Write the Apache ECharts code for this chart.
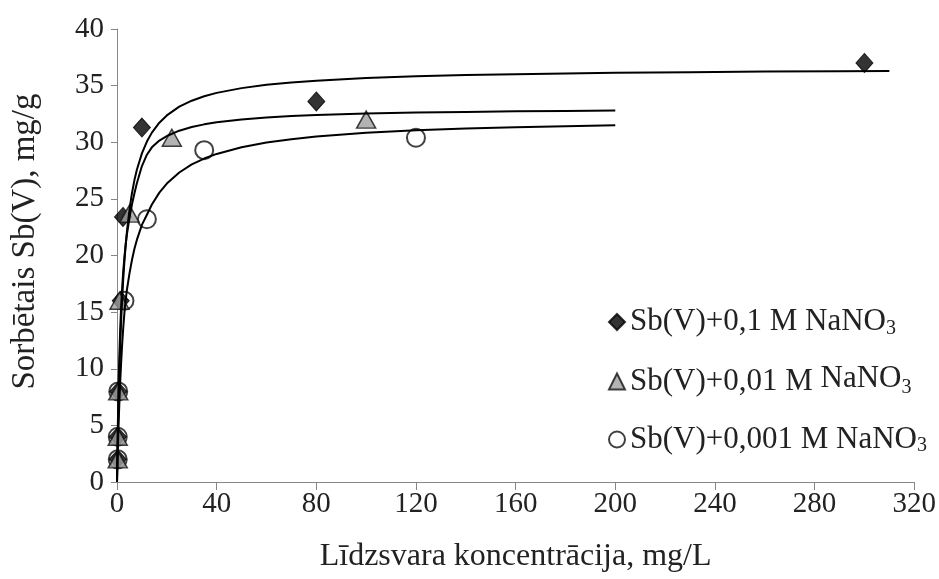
<!DOCTYPE html>
<html><head><meta charset="utf-8">
<script src="https://cdn.jsdelivr.net/npm/echarts@6/dist/echarts.min.js"></script>
<style>html,body{margin:0;padding:0;background:#fff}#c{width:939px;height:579px}</style>
</head><body><div id="c"></div>
<script>
// Series names
const names = ['Sb(V)+0,1 M NaNO3', 'Sb(V)+0,01 M NaNO3', 'Sb(V)+0,001 M NaNO3'];

// Measured points [C (mg/L), q (mg/g)]
const pts01 = [[0.3, 2], [0.3, 4], [0.5, 8], [1.5, 16], [2.4, 23.4], [10, 31.3], [80, 33.6], [300, 37.0]];
const pts001 = [[0.3, 2], [0.3, 4], [0.5, 8], [1, 16], [5, 23.7], [22, 30.4], [100, 32.0]];
const pts0001 = [[0.3, 2], [0.3, 4], [0.5, 8], [3, 16], [12, 23.2], [35, 29.3], [120, 30.4]];

// Fitted curves [C, q]
const fit01 = [[0, 0], [0.1, 1.35], [0.2, 2.6], [0.4, 4.86], [0.6, 6.84], [0.8, 8.58], [1, 10.14], [1.3, 12.17], [1.6, 13.91], [2, 15.87], [2.5, 17.9], [3, 19.57], [3.5, 20.96], [4, 22.15], [5, 24.04], [6, 25.5], [7, 26.66], [8, 27.59], [10, 29.02], [12, 30.06], [14, 30.85], [17, 31.73], [20, 32.37], [25, 33.14], [30, 33.67], [35, 34.06], [40, 34.36], [50, 34.78], [60, 35.07], [70, 35.28], [80, 35.44], [100, 35.67], [120, 35.82], [140, 35.93], [160, 36.01], [180, 36.08], [200, 36.13], [230, 36.19], [260, 36.24], [290, 36.27], [310, 36.29]];
const fit001 = [[0, 0], [0.1, 1.6], [0.2, 3.1], [0.4, 5.8], [0.6, 8.1], [0.8, 10.0], [1, 11.6], [1.3, 13.6], [1.6, 15.2], [2, 16.9], [2.5, 18.6], [3, 19.9], [3.5, 21.0], [4, 21.9], [5, 23.3], [6, 24.5], [7, 25.5], [8, 26.4], [10, 27.9], [12, 28.9], [14, 29.55], [17, 30.15], [20, 30.55], [25, 31.02], [30, 31.34], [35, 31.58], [40, 31.76], [50, 32.01], [60, 32.18], [70, 32.31], [80, 32.4], [100, 32.53], [120, 32.62], [140, 32.68], [160, 32.73], [180, 32.77], [200, 32.8]];
const fit0001 = [[0, 0], [0.1, 0.9], [0.2, 1.8], [0.4, 3.3], [0.6, 4.8], [0.8, 6.1], [1, 7.3], [1.3, 8.9], [1.6, 10.3], [2, 11.9], [2.5, 13.6], [3, 15.0], [3.5, 16.1], [4, 17.0], [5, 18.4], [6, 19.6], [7, 20.6], [8, 21.4], [10, 22.7], [12, 23.6], [14, 24.5], [17, 25.55], [20, 26.35], [25, 27.33], [30, 28.04], [35, 28.56], [40, 28.97], [50, 29.56], [60, 29.97], [70, 30.27], [80, 30.5], [100, 30.83], [120, 31.05], [140, 31.21], [160, 31.33], [180, 31.42], [200, 31.5]];

const xMin = 0, xMax = 320, xStep = 40;
const yMin = 0, yMax = 40, yStep = 5;

const FONT = 'Liberation Serif';
const axisGray = '#868686';
const txt = '#222';

const legendText = {};
legendText[names[0]] = 'Sb(V)+0,1 M NaNO{sub|3}';
legendText[names[1]] = 'Sb(V)+0,01 M {up|NaNO}{sub|3}';
legendText[names[2]] = 'Sb(V)+0,001 M NaNO{sub|3}';

const chart = echarts.init(document.getElementById('c'), null, {renderer: 'canvas'});

function lineSeries(data) {
  return {
    type: 'line', data: data, smooth: false, symbol: 'none',
    lineStyle: {color: '#000', width: 2}, z: 5, silent: true, animation: false
  };
}

chart.setOption({
  animation: false,
  backgroundColor: '#fff',
  grid: {left: 117, right: 24, top: 29, bottom: 97, containLabel: false},
  xAxis: {
    type: 'value', min: xMin, max: xMax, interval: xStep,
    name: 'Līdzsvara koncentrācija, mg/L', nameLocation: 'middle', nameGap: 59,
    nameTextStyle: {fontFamily: FONT, fontSize: 32, color: txt},
    axisLine: {show: true, lineStyle: {color: axisGray, width: 1}},
    axisTick: {show: true, length: 8, lineStyle: {color: axisGray}},
    axisLabel: {fontFamily: FONT, fontSize: 29, color: txt, margin: 8},
    splitLine: {show: false}
  },
  yAxis: {
    type: 'value', min: yMin, max: yMax, interval: yStep,
    name: 'Sorbētais Sb(V), mg/g', nameLocation: 'middle', nameGap: 75,
    nameTextStyle: {fontFamily: FONT, fontSize: 33, color: txt, padding: [0, 0, 0, 28]},
    axisLine: {show: true, lineStyle: {color: axisGray, width: 1}},
    axisTick: {show: true, length: 6, lineStyle: {color: axisGray}},
    axisLabel: {fontFamily: FONT, fontSize: 29, color: txt, margin: 13},
    splitLine: {show: false}
  },
  legend: {
    orient: 'vertical', left: 603, top: 300, itemGap: 24, itemWidth: 16, itemHeight: 16,
    data: names,
    formatter: function (n) { return legendText[n]; },
    textStyle: {
      fontFamily: FONT, fontSize: 31, color: txt, lineHeight: 34,
      rich: {
        sub: {fontFamily: FONT, fontSize: 20, color: txt, padding: [13, 0, 0, 0]},
        up: {fontFamily: FONT, fontSize: 31, color: txt, padding: [0, 0, 6, 0]}
      }
    }
  },
  series: [
    {name: names[0], type: 'scatter', data: pts01, symbol: 'diamond', symbolSize: [17, 19],
     itemStyle: {color: '#000', borderColor: '#000', borderWidth: 1}, z: 3},
    {name: names[1], type: 'scatter', data: pts001, symbol: 'triangle', symbolSize: [19, 17],
     itemStyle: {color: '#a0a0a0', borderColor: '#111', borderWidth: 1.5}, z: 4},
    {name: names[2], type: 'scatter', data: pts0001, symbol: 'circle', symbolSize: 18,
     itemStyle: {color: 'rgba(255,255,255,0)', borderColor: '#111', borderWidth: 2}, z: 2},
    lineSeries(fit01),
    lineSeries(fit001),
    lineSeries(fit0001)
  ]
});
</script>
</body></html>
